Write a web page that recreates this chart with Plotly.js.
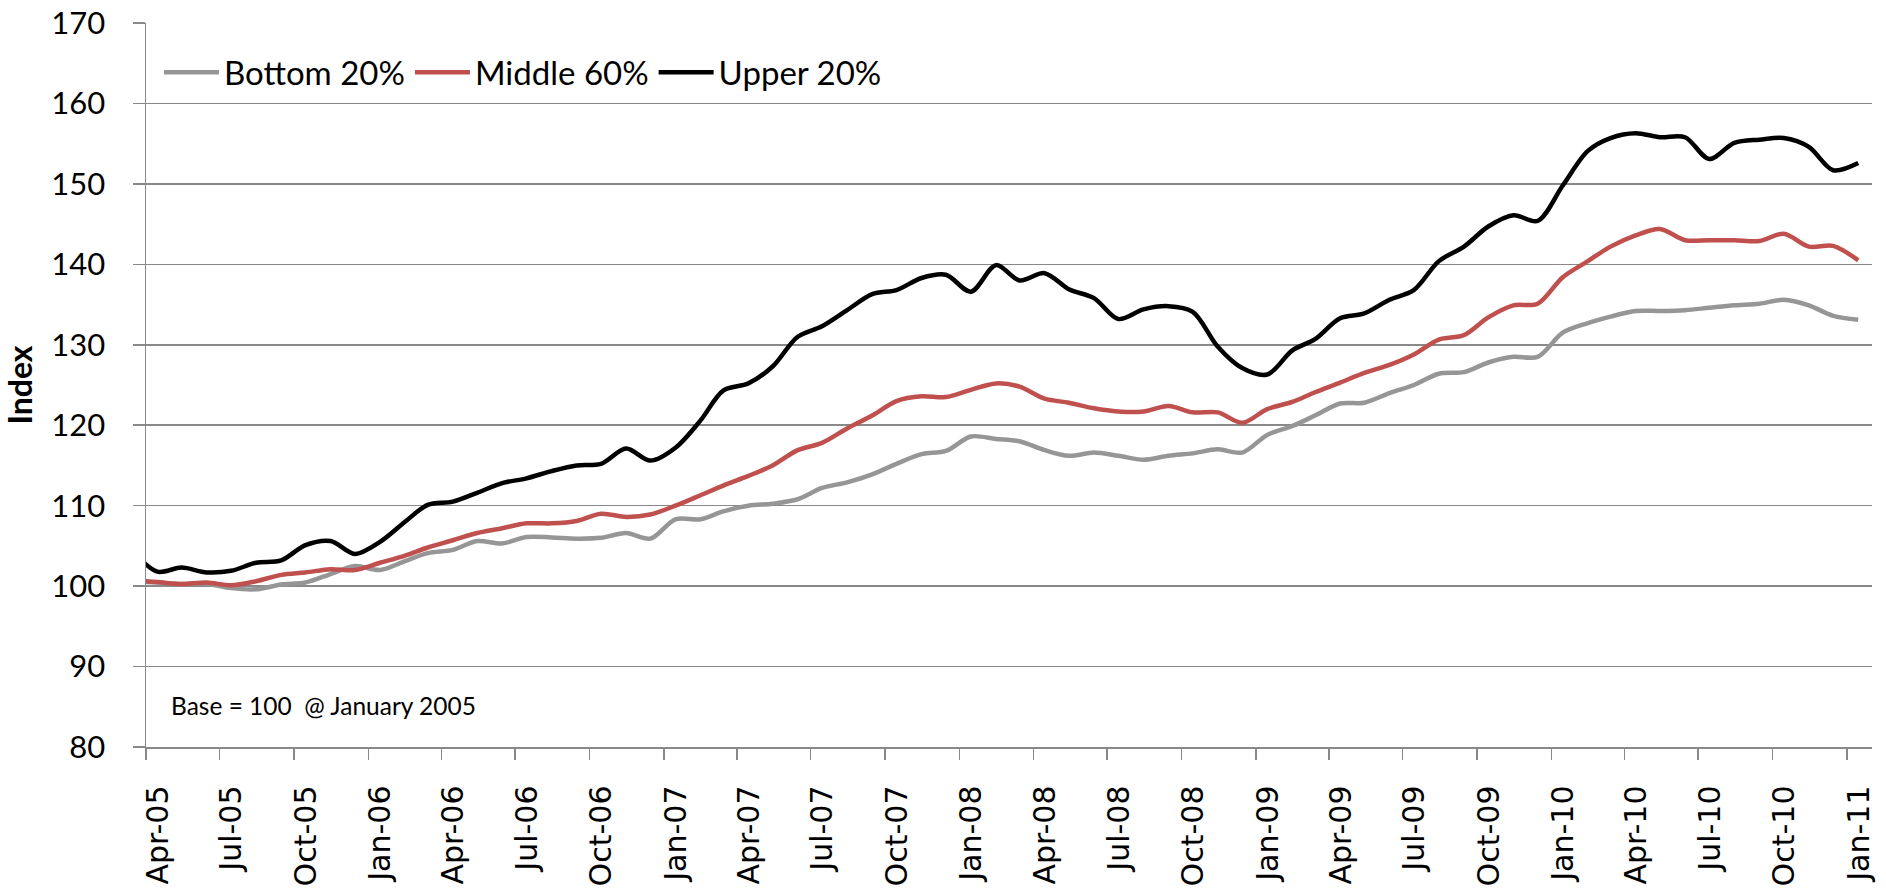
<!DOCTYPE html>
<html>
<head>
<meta charset="utf-8">
<script src="https://cdn.plot.ly/plotly-3.0.1.min.js"></script>
<style>
  html, body { margin: 0; padding: 0; background: #ffffff; }
  #chart { width: 1886px; height: 889px; }
</style>
</head>
<body>
<div id="chart"></div>
<script>
// Mid-month observation dates, March 2005 (clipped at the axis start) to January 2011
var startYear = 2005, startMonth = 3, nPoints = 71;
var dates = [];
for (var i = 0; i < nPoints; i++) {
  var mm = startMonth - 1 + i;
  var y = startYear + Math.floor(mm / 12);
  var m = (mm % 12) + 1;
  dates.push(y + '-' + (m < 10 ? '0' + m : m) + '-15');
}

var seriesNames = ['Bottom 20%', 'Middle 60%', 'Upper 20%'];

var bottom20 = [
  100.55, 100.45, 100.25, 100.3, 99.75, 99.6, 100.2, 100.45, 101.5, 102.5,
  102.0, 103.1, 104.1, 104.5, 105.6, 105.3, 106.1, 106.05, 105.9, 106.0,
  106.6, 105.9, 108.3, 108.3, 109.3, 110.0, 110.25, 110.8, 112.2, 112.9,
  113.9, 115.2, 116.4, 116.8, 118.6, 118.3, 118.0, 116.9, 116.2, 116.6,
  116.2, 115.7, 116.2, 116.5, 117.0, 116.6, 118.8, 119.9, 121.2, 122.7,
  122.8, 124.0, 125.0, 126.4, 126.6, 127.8, 128.5, 128.5, 131.5, 132.7,
  133.5, 134.2, 134.2, 134.3, 134.6, 134.9, 135.1, 135.6, 134.9, 133.6,
  133.1
];

var middle60 = [
  100.7, 100.5, 100.25, 100.45, 100.1, 100.6, 101.4, 101.7, 102.1, 102.0,
  102.9, 103.8, 104.8, 105.7, 106.6, 107.2, 107.8, 107.8, 108.1, 109.0,
  108.6, 108.9, 110.0, 111.3, 112.5, 113.7, 115.0, 116.9, 117.8, 119.6,
  121.2, 123.0, 123.6, 123.5, 124.4, 125.2, 124.8, 123.3, 122.8, 122.1,
  121.7, 121.7, 122.4, 121.6, 121.6, 120.3, 122.0, 122.9, 124.1, 125.3,
  126.5, 127.5, 128.8, 130.65, 131.2, 133.4, 134.9, 135.1, 138.4, 140.4,
  142.2, 143.6, 144.4, 143.0, 143.0, 143.0, 142.9, 143.8, 142.2, 142.3,
  140.5
];

var upper20 = [
  104.4, 101.8, 102.3, 101.7, 101.9, 102.9, 103.2, 105.1, 105.6, 104.0,
  105.5, 108.0, 110.1, 110.5, 111.6, 112.8, 113.4, 114.3, 115.0, 115.2,
  117.1, 115.6, 117.2, 120.6, 124.3, 125.2, 127.3, 131.0, 132.3, 134.3,
  136.3, 136.8, 138.3, 138.7, 136.6, 139.9, 138.0, 138.9, 136.9, 135.8,
  133.2, 134.4, 134.8, 134.1, 129.75, 127.1, 126.3, 129.3, 130.7, 133.3,
  133.9, 135.6, 136.8, 140.4, 142.2, 144.7, 146.1, 145.4, 149.8, 154.1,
  155.7, 156.3, 155.8, 155.8, 153.1, 155.1, 155.5, 155.7, 154.6, 151.7,
  152.6
];

var seriesValues = [bottom20, middle60, upper20];
var seriesColors = ['#969696', '#C0504D', '#000000'];

var yTickVals = [80, 90, 100, 110, 120, 130, 140, 150, 160, 170];
var annotationText = 'Base = 100  @ January 2005';
var yTitle = 'Index';

var traces = seriesNames.map(function (name, k) {
  return {
    type: 'scatter',
    mode: 'lines',
    name: name,
    x: dates,
    y: seriesValues[k],
    line: { color: seriesColors[k], width: 4.5, shape: 'spline', smoothing: 0.9 },
    hoverinfo: 'x+y+name'
  };
});

var gridColor = '#898989';

var layout = {
  width: 1886,
  height: 889,
  paper_bgcolor: '#ffffff',
  plot_bgcolor: '#ffffff',
  margin: { l: 146, r: 14, t: 23, b: 142, pad: 0 },
  showlegend: true,
  legend: {
    orientation: 'h',
    x: 0.0075,
    xanchor: 'left',
    y: 0.932,
    yanchor: 'middle',
    bgcolor: 'rgba(255,255,255,0)',
    font: { family: 'Lato, "Open Sans", sans-serif', size: 33, color: '#000000' },
    itemwidth: 55,
    tracegroupgap: 0
  },
  xaxis: {
    type: 'date',
    range: ['2005-04-01', '2011-02-01'],
    tick0: '2005-04-01',
    dtick: 'M3',
    tickformat: '%b-%y',
    tickangle: -90,
    ticks: 'outside',
    ticklen: 11,
    tickwidth: 1.5,
    tickcolor: gridColor,
    ticklabelstandoff: 14,
    ticklabelshift: 12,
    showgrid: false,
    showline: true,
    linecolor: gridColor,
    linewidth: 1.5,
    zeroline: false,
    tickfont: { family: '"DejaVu Sans", sans-serif', size: 30, color: '#000000' },
    fixedrange: true
  },
  yaxis: {
    range: [80, 170],
    tickvals: yTickVals,
    ticks: 'outside',
    ticklen: 12,
    tickwidth: 1.5,
    tickcolor: gridColor,
    ticklabelstandoff: 21,
    showgrid: true,
    gridcolor: gridColor,
    gridwidth: 1.5,
    showline: true,
    linecolor: gridColor,
    linewidth: 1.5,
    zeroline: false,
    tickfont: { family: 'Lato, "Open Sans", sans-serif', size: 31, color: '#000000' },
    title: {
      text: '<b>' + yTitle + '</b>',
      font: { family: 'Lato, "Open Sans", sans-serif', size: 32, color: '#000000' },
      standoff: 13
    },
    fixedrange: true
  },
  annotations: [{
    xref: 'paper', yref: 'paper',
    x: 0.0135, y: 0.0576,
    xanchor: 'left', yanchor: 'middle',
    text: annotationText,
    showarrow: false,
    font: { family: 'Lato, "Open Sans", sans-serif', size: 24.5, color: '#000000' }
  }]
};

Plotly.newPlot('chart', traces, layout, { displayModeBar: false, staticPlot: true });
</script>
</body>
</html>
